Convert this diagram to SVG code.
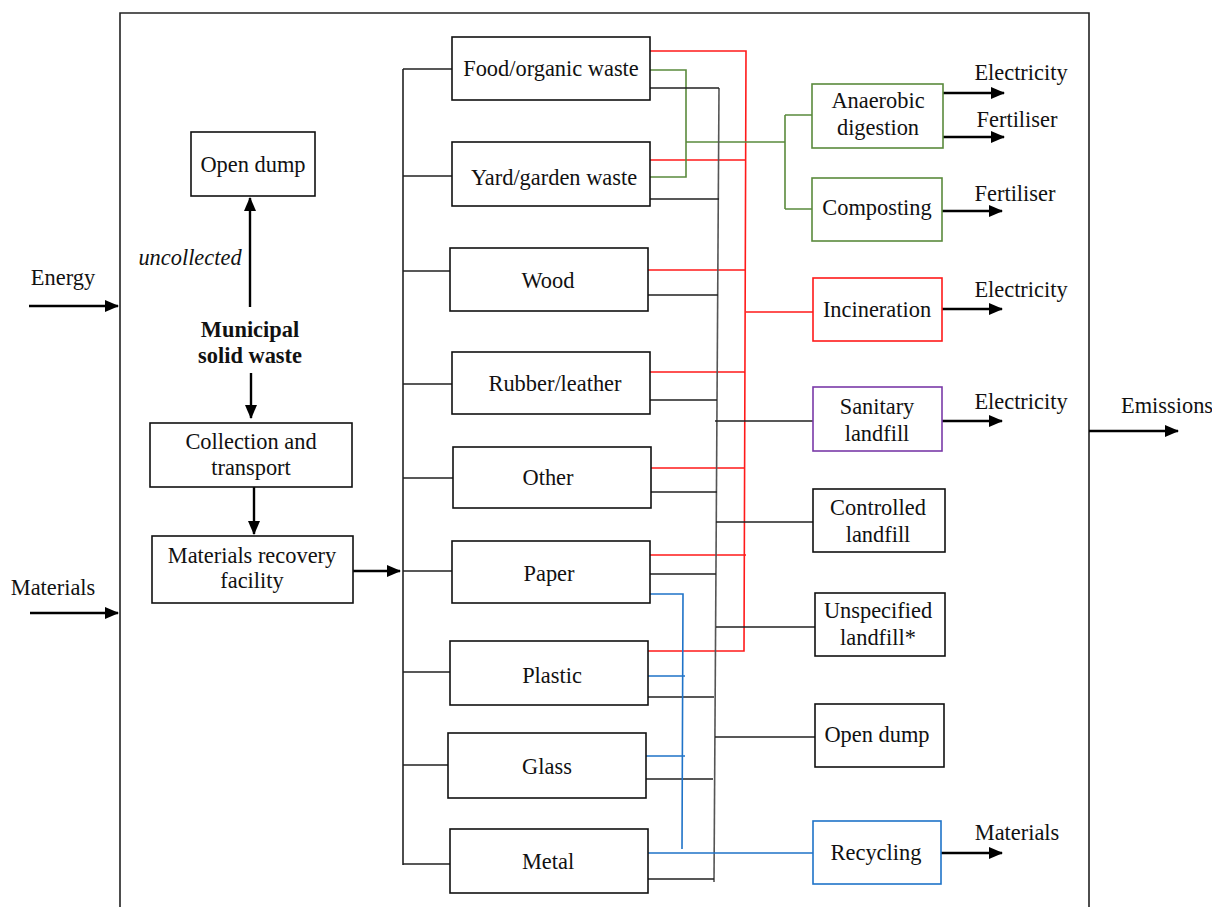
<svg xmlns="http://www.w3.org/2000/svg" width="1212" height="907" viewBox="0 0 1212 907">
<defs>
<marker id="ah" markerWidth="14" markerHeight="12" refX="13" refY="6" orient="auto" markerUnits="userSpaceOnUse">
<path d="M0,0 L14,6 L0,12 Z" fill="#000"/>
</marker>
<style>
text{font-family:'Liberation Serif','DejaVu Serif',serif;font-size:22.4px;fill:#111;text-anchor:middle}
.box{fill:#fff;stroke:#111;stroke-width:1.6}
.g{stroke:#5a8a3c}
.r{stroke:#ff1a1a}
.p{stroke:#7a3aa8}
.b{stroke:#1f73c8}
.ln{fill:none;stroke-width:1.6}
.k{stroke:#222}
.gk{stroke:#555}
.arr{stroke:#000;stroke-width:2.4;fill:none;marker-end:url(#ah)}
.lt{text-anchor:start}
</style>
</defs>
<rect width="1212" height="907" fill="#fff"/>
<path d="M120,910 V13 H1089 V910" fill="none" stroke="#222" stroke-width="1.6"/>

<g id="connectors">
<line class="arr" x1="29" y1="306" x2="118" y2="306"/>
<line class="arr" x1="30" y1="613" x2="118" y2="613"/>
<line class="arr" x1="1089" y1="431" x2="1178" y2="431"/>
<line class="arr" x1="250" y1="307" x2="250" y2="198"/>
<line class="arr" x1="251" y1="373" x2="251" y2="418"/>
<line class="arr" x1="254" y1="487" x2="254" y2="534"/>
<line class="arr" x1="353" y1="571" x2="400" y2="571"/>
<line class="arr" x1="943" y1="93" x2="1004" y2="93"/>
<line class="arr" x1="943" y1="137" x2="1004" y2="137"/>
<line class="arr" x1="942" y1="211" x2="1002" y2="211"/>
<line class="arr" x1="942" y1="309" x2="1002" y2="309"/>
<line class="arr" x1="942" y1="421" x2="1002" y2="421"/>
<line class="arr" x1="941" y1="853" x2="1002" y2="853"/>
<path class="ln k" d="M403,69 V865 M403,69 H452 M403,176 H452 M403,271 H450 M403,384 H452 M403,478 H453 M403,571 H452 M403,672 H450 M403,765 H448 M403,864 H450"/>
<path class="ln r" d="M650,51 H746 L744,651 H648 M650,160 H746 M648,270 H746 M746,312 H813 M650,372 H745 M651,468 H745 M650,555 H746"/>
<path class="ln g" d="M650,70 H686 V177 H650 M686,142 H785 M785,115 V209 M785,115 H812 M785,209 H812"/>
<path class="ln gk" d="M719,88 L714,882"/>
<path class="ln k" d="M650,88 H719 M650,199 H719 M648,295 H718 M650,400 H717 M715,421 H813 M651,492 H717 M716,522 H813 M650,574 H716 M716,627 H815 M648,697 H714 M715,737 H815 M646,779 H713 M648,879 H714"/>
<path class="ln b" d="M650,594 H683 L682,849 M648,676 H685 M646,756 H685 M648,853 H813"/>
</g>

<text x="63" y="285">Energy</text>
<text x="53" y="595">Materials</text>
<text x="1121" y="413" class="lt">Emissions</text>
<text x="190" y="265" font-style="italic">uncollected</text>
<text x="250" y="337" font-weight="bold">Municipal</text>
<text x="250" y="363" font-weight="bold">solid waste</text>
<text x="1021" y="80">Electricity</text>
<text x="1017" y="127">Fertiliser</text>
<text x="1015" y="201">Fertiliser</text>
<text x="1021" y="297">Electricity</text>
<text x="1021" y="409">Electricity</text>
<text x="1017" y="840">Materials</text>

<g id="open-dump-left"><rect class="box" x="191" y="132" width="124" height="64"/><text x="253" y="172">Open dump</text></g>
<g id="collection"><rect class="box" x="150" y="423" width="202" height="64"/><text x="251" y="449">Collection and</text><text x="251" y="475">transport</text></g>
<g id="mrf"><rect class="box" x="152" y="536" width="201" height="67"/><text x="252" y="563">Materials recovery</text><text x="252" y="588">facility</text></g>

<g id="food"><rect class="box" x="452" y="37" width="198" height="63"/><text x="551" y="76">Food/organic waste</text></g>
<g id="yard"><rect class="box" x="452" y="142" width="198" height="64"/><text x="554" y="185">Yard/garden waste</text></g>
<g id="wood"><rect class="box" x="450" y="248" width="198" height="63"/><text x="548" y="288">Wood</text></g>
<g id="rubber"><rect class="box" x="452" y="352" width="198" height="62"/><text x="555" y="391">Rubber/leather</text></g>
<g id="other"><rect class="box" x="453" y="447" width="198" height="61"/><text x="548" y="485">Other</text></g>
<g id="paper"><rect class="box" x="452" y="541" width="198" height="62"/><text x="549" y="581">Paper</text></g>
<g id="plastic"><rect class="box" x="450" y="641" width="198" height="64"/><text x="552" y="683">Plastic</text></g>
<g id="glass"><rect class="box" x="448" y="733" width="198" height="65"/><text x="547" y="774">Glass</text></g>
<g id="metal"><rect class="box" x="450" y="829" width="198" height="64"/><text x="548" y="869">Metal</text></g>

<g id="anaerobic"><rect class="box g" x="812" y="84" width="131" height="64"/><text x="878" y="108">Anaerobic</text><text x="878" y="135">digestion</text></g>
<g id="composting"><rect class="box g" x="812" y="178" width="130" height="63"/><text x="877" y="215">Composting</text></g>
<g id="incineration"><rect class="box r" x="813" y="278" width="129" height="63"/><text x="877" y="317">Incineration</text></g>
<g id="sanitary"><rect class="box p" x="813" y="387" width="129" height="64"/><text x="877" y="414">Sanitary</text><text x="877" y="441">landfill</text></g>
<g id="controlled"><rect class="box" x="813" y="489" width="132" height="63"/><text x="878" y="515">Controlled</text><text x="878" y="542">landfill</text></g>
<g id="unspecified"><rect class="box" x="815" y="593" width="130" height="63"/><text x="878" y="618">Unspecified</text><text x="878" y="645">landfill*</text></g>
<g id="open-dump-right"><rect class="box" x="815" y="704" width="129" height="63"/><text x="877" y="742">Open dump</text></g>
<g id="recycling"><rect class="box b" x="813" y="821" width="128" height="63"/><text x="876" y="860">Recycling</text></g>
</svg>
